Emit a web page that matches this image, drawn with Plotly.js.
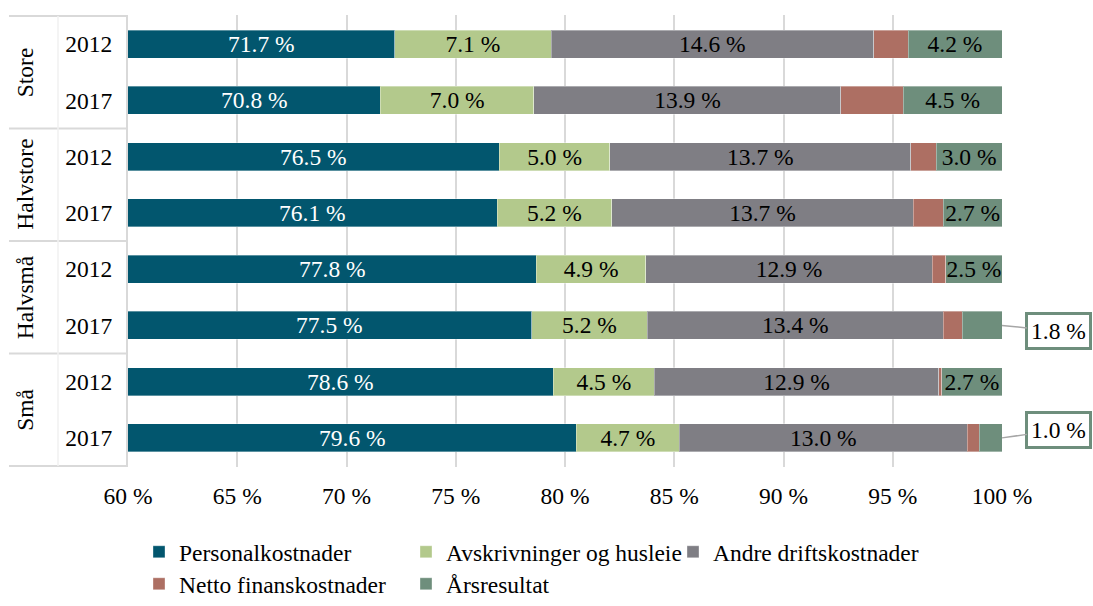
<!DOCTYPE html>
<html><head><meta charset="utf-8">
<script src="https://cdn.plot.ly/plotly-3.0.1.min.js"></script>
<style>html,body{margin:0;padding:0;background:#fff;} #chart{width:1093px;height:606px;}</style>
</head><body><div id="chart"></div>
<script>
// categories
const groups = ['Store','Store','Halvstore','Halvstore','Halvsmå','Halvsmå','Små','Små'];
const years  = ['2012','2017','2012','2017','2012','2017','2012','2017'];
const groupNames = ['Store','Halvstore','Halvsmå','Små'];
const seriesNames = ['Personalkostnader','Avskrivninger og husleie','Andre driftskostnader','Netto finanskostnader','Årsresultat'];
const xTicks = [60,65,70,75,80,85,90,95,100];

// bar lengths (percent)
const personal = [72.2, 71.55, 77.0, 76.9, 78.69, 78.48, 79.47, 80.52];
const avskr    = [7.17, 7.03, 5.05, 5.23, 5.01, 5.28, 4.62, 4.71];
const andre    = [14.75, 14.05, 13.78, 13.81, 13.10, 13.56, 13.02, 13.19];
const netto    = [1.58, 2.85, 1.16, 1.38, 0.63, 0.87, 0.13, 0.55];
const ars      = [4.30, 4.52, 3.01, 2.68, 2.57, 1.81, 2.76, 1.03];

// printed data labels
const personalLabels = [71.7, 70.8, 76.5, 76.1, 77.8, 77.5, 78.6, 79.6];
const avskrLabels    = [7.1, 7.0, 5.0, 5.2, 4.9, 5.2, 4.5, 4.7];
const andreLabels    = [14.6, 13.9, 13.7, 13.7, 12.9, 13.4, 12.9, 13.0];
const arsLabels      = [4.2, 4.5, 3.0, 2.7, 2.5, 1.8, 2.7, 1.0];
const arsCallout     = [false, false, false, false, false, true, false, true];
const calloutShiftY  = [0, 0, 0, 0, 0, 6, 0, -8];

const colors = ['#02566e', '#b3c98c', '#7f7e84', '#ad6f63', '#6e8e7c'];
const FONT = 'Liberation Serif';
const FS = 23.5;
const xRange = [60, 100];

const cats = groups.map((g, i) => g + ' ' + years[i]);
const fmt = v => v.toFixed(1) + ' %';

// plot geometry helpers (paper coordinates)
const L = 128, R = 91, T = 15, B = 139, W = 1093, H = 606;
const pw = W - L - R;
const px2paper = p => (p - L) / pw;

function barTrace(name, vals, labels, color, textColor, legend) {
  return {
    type: 'bar', orientation: 'h', name: name,
    y: cats, x: vals,
    text: labels ? labels.map(v => v === null ? '' : fmt(v)) : undefined,
    textposition: labels ? 'inside' : 'none',
    insidetextanchor: 'middle',
    constraintext: 'none',
    textfont: {family: FONT, size: FS, color: textColor},
    marker: {color: color, line: {color: 'rgba(255,255,255,0.35)', width: 1}},
    legend: legend,
    hoverinfo: 'name+x'
  };
}

const arsText = arsLabels.map((v, i) => arsCallout[i] ? null : v);

const data = [
  barTrace(seriesNames[0], personal, null, colors[0], '#ffffff', 'legend'),
  barTrace(seriesNames[1], avskr, avskrLabels, colors[1], '#000000', 'legend'),
  barTrace(seriesNames[2], andre, andreLabels, colors[2], '#000000', 'legend'),
  barTrace(seriesNames[3], netto, null, colors[3], '#000000', 'legend2'),
  barTrace(seriesNames[4], ars, arsText, colors[4], '#000000', 'legend2')
];

const lineCol = '#d9d9d9';
const shapes = [];
[-0.5, 1.5, 3.5, 5.5, 7.5].forEach(yv => {
  shapes.push({type: 'line', xref: 'paper', yref: 'y', x0: px2paper(9), x1: 0, y0: yv, y1: yv,
    line: {color: lineCol, width: 2}});
});
shapes.push({type: 'line', xref: 'paper', yref: 'y', x0: px2paper(58), x1: px2paper(58), y0: -0.5, y1: 7.5,
  line: {color: '#f0f0f0', width: 1.5}});

const annotations = [];
// personal labels: centred on the visible part of the bar
personal.forEach((v, i) => {
  annotations.push({xref: 'x', yref: 'y', x: (xRange[0] + v) / 2, y: i, text: fmt(personalLabels[i]),
    showarrow: false, xanchor: 'center', yanchor: 'middle',
    font: {family: FONT, size: FS, color: '#ffffff'}});
});
groupNames.forEach((g, k) => {
  annotations.push({xref: 'paper', yref: 'y', x: px2paper(25), y: 2 * k + 0.5, text: g,
    textangle: -90, showarrow: false, xanchor: 'center', yanchor: 'middle',
    font: {family: FONT, size: FS, color: '#000'}});
});
arsCallout.forEach((c, i) => {
  if (!c) return;
  const total = personal[i] + avskr[i] + andre[i] + netto[i] + ars[i];
  annotations.push({xref: 'x', yref: 'y', x: Math.min(total, xRange[1] - 0.001), y: i, text: fmt(arsLabels[i]),
    showarrow: true, arrowhead: 0, arrowwidth: 1.5, arrowcolor: '#a6a6a6', standoff: 0,
    ax: 57, ay: calloutShiftY[i],
    bgcolor: '#ffffff', bordercolor: colors[4], borderwidth: 3, borderpad: 3,
    font: {family: FONT, size: FS, color: '#000'}});
});

const legendBase = {
  orientation: 'h', xref: 'container', yref: 'container', xanchor: 'left',
  font: {family: FONT, size: FS, color: '#000'}, entrywidth: 222, entrywidthmode: 'pixels',
  bgcolor: 'rgba(0,0,0,0)', traceorder: 'normal', itemclick: false, itemdoubleclick: false
};

const layout = {
  width: W, height: H,
  margin: {l: L, r: R, t: T, b: B},
  paper_bgcolor: '#ffffff', plot_bgcolor: '#ffffff',
  barmode: 'stack', bargap: 0.5,
  font: {family: FONT, size: FS, color: '#000'},
  showlegend: true,
  xaxis: {
    range: xRange, tickvals: xTicks, ticktext: xTicks.map(v => v + ' %'),
    showgrid: true, gridcolor: lineCol, gridwidth: 2, zeroline: false, showline: false,
    ticks: '', ticklabelstandoff: 12, tickfont: {family: FONT, size: FS, color: '#000'}, fixedrange: true
  },
  yaxis: {
    type: 'category', categoryorder: 'array', categoryarray: cats, autorange: 'reversed',
    tickvals: cats, ticktext: years, showgrid: false, zeroline: false,
    showline: true, linecolor: lineCol, linewidth: 2, ticks: '', ticklabelstandoff: 9,
    tickfont: {family: FONT, size: FS, color: '#000'}, fixedrange: true
  },
  legend: Object.assign({}, legendBase, {x: 139 / W, y: 1 - 552 / H, yanchor: 'middle'}),
  legend2: Object.assign({}, legendBase, {x: 139 / W, y: -0.009, yanchor: 'bottom'}),
  shapes: shapes,
  annotations: annotations
};

Plotly.newPlot('chart', data, layout, {displayModeBar: false, staticPlot: true});
</script>
</body></html>
